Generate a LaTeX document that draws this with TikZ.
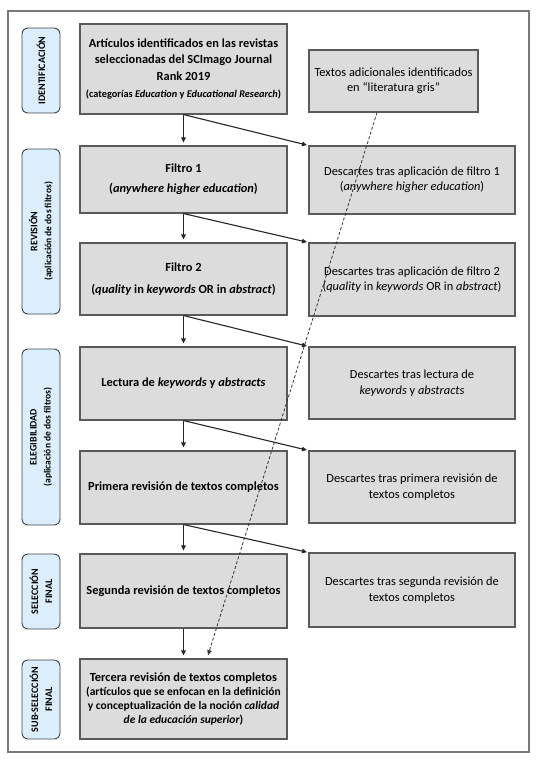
\documentclass[tikz,border=0pt]{standalone}
\usepackage{fontspec}
\setmainfont{Carlito}
\usetikzlibrary{arrows.meta}
\definecolor{boxgray}{HTML}{DCDCDC}
\definecolor{boxline}{HTML}{5A5A5A}
\definecolor{lblue}{HTML}{DCEEFB}
\definecolor{lline}{HTML}{3C4650}
\definecolor{frameline}{HTML}{7A7A7A}
\begin{document}
\begin{tikzpicture}[x=1pt,y=-1pt,
  mainbox/.style={draw=boxline, line width=1.1pt, fill=boxgray, align=center, inner sep=1pt,
    font=\fontsize{12.4}{16.3}\selectfont\bfseries, minimum width=207pt},
  sidebox/.style={draw=boxline, line width=1.1pt, fill=boxgray, align=center, inner sep=1pt,
    font=\fontsize{12.4}{15.5}\selectfont, minimum width=206pt},
  lbl/.style={draw=lline, line width=0.9pt, fill=lblue, rounded corners=6pt, rotate=90,
    align=center, inner sep=1pt, minimum height=38pt, font=\fontsize{10}{14}\selectfont\bfseries},
  arr/.style={draw=black!85, line width=1.1pt, -{Triangle[length=5pt,width=4.5pt]}},
  darr/.style={draw=black!80, line width=0.8pt, dash pattern=on 3pt off 2pt, -{Triangle[length=5pt,width=4.5pt]}}
]
\useasboundingbox (0,0) rectangle (540,763);
\node[draw=frameline, line width=1.4pt, minimum width=521pt, minimum height=741pt, inner sep=0pt] (frame) at (268.5,381.5) {};

% stage labels
\node[lbl, minimum width=85pt] (lid) at (41,70.5) {IDENTIFICACIÓN};
\node[lbl, minimum width=165pt] (lrev) at (41,231.5) {REVISIÓN\\{\fontsize{9.5}{13}\selectfont (aplicación de dos filtros)}};
\node[lbl, minimum width=176pt] (leleg) at (41,437) {ELEGIBILIDAD\\{\fontsize{9.5}{13}\selectfont (aplicación de dos filtros)}};
\node[lbl, minimum width=75pt] (lsel) at (41,591.5) {SELECCIÓN\\FINAL};
\node[lbl, minimum width=79pt] (lsub) at (41,699.5) {SUB-SELECCIÓN\\FINAL};

% main column
\node[mainbox, minimum height=90pt] (b1) at (183.5,69) {Artículos identificados en las revistas\\seleccionadas del SCImago Journal\\Rank 2019\\[1pt]{\fontsize{10.3}{12}\selectfont (categorías \textit{Education} y \textit{Educational Research})}};
\node[mainbox, minimum height=67pt] (b2) at (183.5,179.5) {Filtro 1\\[4pt](\textit{anywhere higher education})};
\node[mainbox, minimum height=72pt] (b3) at (183.5,279) {Filtro 2\\[6pt](\textit{quality} in \textit{keywords} OR in \textit{abstract})};
\node[mainbox, minimum height=73pt] (b4) at (183.5,383.5) {Lectura de \textit{keywords} y \textit{abstracts}};
\node[mainbox, minimum height=73pt] (b5) at (183.5,487.5) {Primera revisión de textos completos};
\node[mainbox, minimum height=74pt] (b6) at (183.5,591) {Segunda revisión de textos completos};
\node[mainbox, minimum height=80pt, font=\fontsize{11.5}{14}\selectfont\bfseries] (b7) at (183.5,699) {{\fontsize{12.4}{14}\selectfont Tercera revisión de textos completos}\\(artículos que se enfocan en la definición\\y conceptualización de la noción \textit{calidad}\\\textit{de la educación superior})};

% side column
\node[sidebox, minimum width=169pt, minimum height=62pt] (tx) at (393.5,81) {Textos adicionales identificados\\en “literatura gris”};
\node[sidebox, minimum height=68pt] (d1) at (412,180) {Descartes tras aplicación de filtro 1\\(\textit{anywhere higher education})};
\node[sidebox, minimum height=73pt] (d2) at (412,279.5) {Descartes tras aplicación de filtro 2\\(\textit{quality} in \textit{keywords} OR in \textit{abstract})};
\node[sidebox, minimum height=72pt] (d3) at (412,383) {Descartes tras lectura de\\\textit{keywords} y \textit{abstracts}};
\node[sidebox, minimum height=72pt] (d4) at (412,487) {Descartes tras primera revisión de\\textos completos};
\node[sidebox, minimum height=74pt] (d5) at (412,590) {Descartes tras segunda revisión de\\textos completos};

% connectors
\foreach \a/\b/\d in {b1/b2/d1, b2/b3/d2, b3/b4/d3, b4/b5/d4, b5/b6/d5} {
  \draw[arr, shorten >=3pt] (\a.south) -- (\b.north);
  \draw[arr, shorten >=1.5pt] (\a.south) -- (\d.north west);
}
\draw[arr, shorten >=3pt] (b6.south) -- (b7.north);
\draw[darr, shorten >=3.5pt] ([xshift=-16.5pt]tx.south) -- ([xshift=23.5pt]b7.north);
\end{tikzpicture}
\end{document}
